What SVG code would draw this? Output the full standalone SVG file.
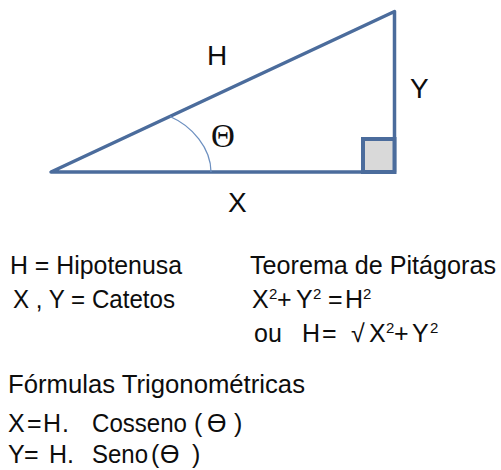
<svg xmlns="http://www.w3.org/2000/svg" width="501" height="470" viewBox="0 0 501 470">
<style>
.t{font-family:"Liberation Sans",Arial,sans-serif;font-size:25px;fill:#0d0d0d}
.lbl{font-family:"Liberation Sans",Arial,sans-serif;font-size:28px;fill:#0d0d0d}
.sup{font-size:15px}
.edge{fill:none;stroke:#4b6c9c;stroke-width:3.5;stroke-linejoin:round;stroke-linecap:round}
</style>
<rect width="501" height="470" fill="#ffffff"/>
<g id="triangle">
<polygon points="51,172 394.5,11.5 394.5,172" fill="#ebebeb" class="edge"/>
<rect x="363" y="139" width="31.5" height="33" fill="#d9d9d9" stroke="#4b6c9c" stroke-width="4"/>
<path d="M170,116.5 C192,126 211,148 211,172" fill="none" stroke="#6d90c0" stroke-width="1.3"/>
</g>
<g id="labels">
<text class="lbl" x="207" y="65">H</text>
<text class="lbl" x="410" y="98">Y</text>
<text class="lbl" x="228" y="212">X</text>
<text x="211" y="147" font-family="'Liberation Serif','Times New Roman',serif" font-size="33" fill="#111">Θ</text>
</g>
<g id="definitions">
<text class="t" x="10" y="274" textLength="172" lengthAdjust="spacingAndGlyphs">H = Hipotenusa</text>
<text class="t" x="13" y="308" textLength="162" lengthAdjust="spacingAndGlyphs">X , Y = Catetos</text>
</g>
<g id="pitagoras">
<text class="t" x="250" y="274" textLength="246" lengthAdjust="spacingAndGlyphs">Teorema de Pitágoras</text>
<text class="t" y="308"><tspan x="252">X</tspan><tspan class="sup" x="269" dy="-9">2</tspan><tspan x="277" dy="9">+</tspan><tspan x="296">Y</tspan><tspan class="sup" x="313" dy="-9">2</tspan><tspan x="328" dy="9">=</tspan><tspan x="345">H</tspan><tspan class="sup" x="363" dy="-9">2</tspan></text>
<text class="t" y="342"><tspan x="254">ou</tspan><tspan x="302">H</tspan><tspan x="322">=</tspan><tspan x="351">√</tspan><tspan x="369">X</tspan><tspan class="sup" x="386" dy="-9">2</tspan><tspan x="394" dy="9">+</tspan><tspan x="412">Y</tspan><tspan class="sup" x="430" dy="-9">2</tspan></text>
</g>
<g id="trigonometria">
<text class="t" x="8" y="393" textLength="297" lengthAdjust="spacingAndGlyphs">Fórmulas Trigonométricas</text>
<text class="t" y="432"><tspan x="8">X</tspan><tspan x="27">=</tspan><tspan x="43">H</tspan><tspan x="62">.</tspan><tspan x="92" textLength="95" lengthAdjust="spacingAndGlyphs">Cosseno</tspan><tspan x="194">(</tspan><tspan x="207">ϴ</tspan><tspan x="234">)</tspan></text>
<text class="t" y="463"><tspan x="8">Y</tspan><tspan x="24">=</tspan><tspan x="49">H</tspan><tspan x="67">.</tspan><tspan x="92" textLength="56" lengthAdjust="spacingAndGlyphs">Seno</tspan><tspan x="151">(</tspan><tspan x="160">ϴ</tspan><tspan x="192">)</tspan></text>
</g>
</svg>
